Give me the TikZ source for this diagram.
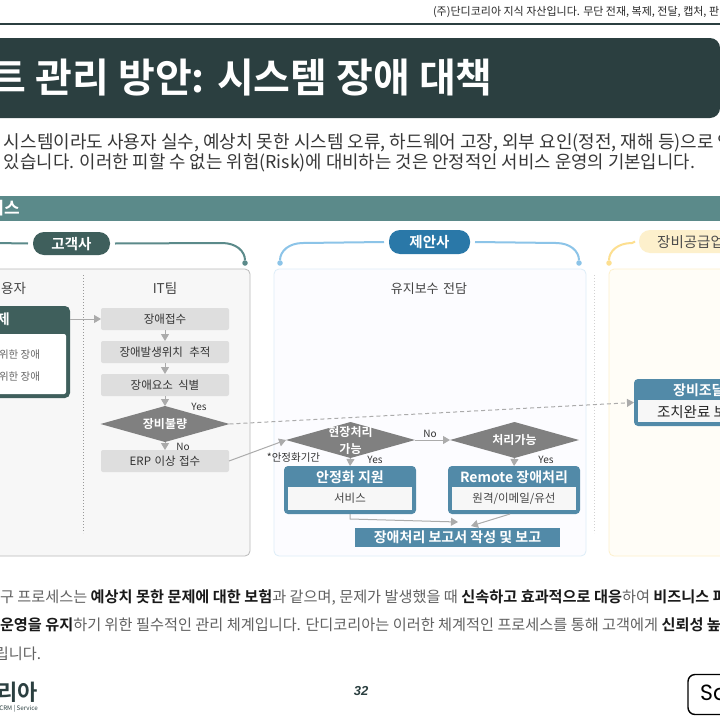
\documentclass[tikz,border=0pt]{standalone}
\usepackage{fontspec}
\setmainfont{Noto Sans CJK KR}[BoldFont={Noto Sans CJK KR Bold}]
\newfontfamily\latf{Liberation Sans}
\newfontfamily\popf{Poppins}
\usetikzlibrary{shapes.geometric,arrows.meta}
\definecolor{ink}{HTML}{2B3F40}
\definecolor{band}{HTML}{5B8A8A}
\definecolor{cust}{HTML}{3F5F5C}
\definecolor{prop}{HTML}{2A78A8}
\definecolor{propl}{HTML}{8CC4E8}
\definecolor{vend}{HTML}{FDF0CC}
\definecolor{vendl}{HTML}{FDDF90}
\definecolor{steel}{HTML}{528AA8}
\definecolor{txt}{HTML}{444444}
\newcommand{\fs}[1]{\fontsize{#1}{#1}\selectfont}
\newcommand{\hst}{\rule[-.12em]{0pt}{1em}}
\newcommand{\wsp}[1]{\hspace{#1em}}
\newcommand{\bt}[1]{{\bfseries\color{black!90}#1}}
\newcommand{\rbox}[7]{%
  \pgfmathsetmacro\cx{(#3+#5)/2}\pgfmathsetmacro\cy{(#4+#6)/2}%
  \pgfmathsetmacro\ww{#5-#3}\pgfmathsetmacro\hh{#6-#4}%
  \node[#2,minimum width=\ww pt,minimum height=\hh pt,inner sep=0pt,outer sep=0pt] (#1) at (\cx,\cy) {\hst #7};}
\tikzset{
  lab/.style={inner sep=0pt,outer sep=0pt,text=txt},
  panel/.style={rounded corners=5pt,line width=.8pt},
  itbox/.style={fill=black!13,rounded corners=2pt,text=black!80,font=\fs{11.5}},
  dia/.style={diamond,fill=black!50,inner sep=0pt,outer sep=0pt,minimum width=129pt,minimum height=36pt},
  diat/.style={inner sep=0pt,text=white,font=\bfseries\fs{12},align=center},
  ar/.style={draw=black!33,line width=1pt,-{Triangle[length=7pt,width=8pt,fill=black!33]}},
  hb/.style={fill=steel,rounded corners=4pt},
  ib/.style={fill=black!3,text=txt,font=\fs{11.5}},
  ht/.style={inner sep=0pt,text=white,font=\bfseries\fs{14}},
  small/.style={inner sep=0pt,text=black!80,font=\fs{10}},
  pill/.style={rounded corners=11pt,font=\bfseries\fs{14.5},text=white},
  dotn/.style={circle,minimum size=5.5pt,inner sep=0pt,outer sep=0pt}
}
\begin{document}
\begin{tikzpicture}[x=1pt,y=-1pt]
\path[use as bounding box,clip] (0,0) rectangle (720,720);
\fill[white] (0,0) rectangle (720,720);
% header
\node[lab,anchor=base west,text=black!85,font=\fs{11}] (hdr) at (433,16) {(주)단디코리아 지식 자산입니다. 무단 전재, 복제, 전달, 캡처, 판};
\coordinate (rl) at (0,24); \coordinate (rr) at (720,24);
\draw[ink,line width=2pt] (rl) -- (rr);
\rbox{titlebar}{fill=ink,rounded corners=10pt}{-30}{38}{720}{118}{}
\node[inner sep=0pt,anchor=base east,text=white,font=\bfseries\fs{40}] (title) at (493,92) {트 관리 방안: 시스템 장애 대책};
\node[lab,anchor=base west,text=black!78,font=\fs{18}] (b1) at (4,148.5) {시스템이라도 사용자 실수, 예상치 못한 시스템 오류, 하드웨어 고장, 외부 요인(정전, 재해 등)으로 인};
\node[lab,anchor=base west,text=black!78,font=\fs{17.8}] (b2) at (4,168.5) {있습니다. 이러한 피할 수 없는 위험(Risk)에 대비하는 것은 안정적인 서비스 운영의 기본입니다.};
\rbox{bandbar}{fill=band}{0}{196}{720}{221}{}
\node[inner sep=0pt,anchor=east,text=white,font=\bfseries\fs{17}] (bandt) at (20,208) {\hst 비스};
% panels
\rbox{pc}{panel,fill=black!3,draw=black!27}{-20}{269}{250}{556}{}
\rbox{pp}{panel,fill=blue!1,draw=propl!30}{274}{269}{586}{556}{}
\rbox{pv}{panel,fill=vend!15,draw=vend}{609}{269}{760}{556}{}
% column headers with curves
\rbox{pA}{pill,fill=cust}{33}{232}{110}{255}{고객사}
\node[dotn,fill=band] (dA) at (245,263) {};
\draw[band,line width=2pt] ([xshift=-5pt]pA.west) -- (-5,243);
\draw[band,line width=2pt] ([xshift=5pt]pA.east) -- (222,243) .. controls (236,243) and (245,251) .. (dA);
\rbox{pB}{pill,fill=prop}{389}{230}{470}{254}{제안사}
\node[dotn,fill=propl] (dB1) at (280,263) {};
\node[dotn,fill=propl] (dB2) at (579,263) {};
\draw[propl,line width=2pt] ([xshift=-5pt]pB.west) -- (303,243) .. controls (289,243) and (280,251) .. (dB1);
\draw[propl,line width=2pt] ([xshift=5pt]pB.east) -- (556,243) .. controls (570,243) and (579,251) .. (dB2);
\rbox{pC}{rounded corners=11pt,fill=vend}{639}{230}{770}{253}{}
\node[inner sep=0pt,anchor=west,text=black!70,font=\fs{14.5}] (pCt) at (657,242) {\hst 장비공급업};
\node[dotn,fill=vendl] (dC) at (609,263) {};
\draw[vendl,line width=2pt] ([xshift=-4pt]pC.west) -- (632,243) .. controls (618,243) and (609,251) .. (dC);
% dividers
\coordinate (v1a) at (83,275); \coordinate (v1b) at (83,533);
\draw[black!40,dotted,line width=1pt] (v1a) -- (v1b);
\coordinate (v2a) at (594,275); \coordinate (v2b) at (594,533);
\draw[black!18,dotted,line width=1pt] (v2a) -- (v2b);
% customer
\node[lab,anchor=east,font=\fs{13.5}] (h1) at (26,288.5) {\hst 용자};
\node[lab,font=\fs{13.5}] (h2) at (165,288.5) {\hst IT팀};
\rbox{ubox}{fill=cust,rounded corners=5pt}{-30}{306}{70}{398}{}
\rbox{ubi}{fill=white,rounded corners=2pt}{-30}{334}{66}{394}{}
\node[inner sep=0pt,anchor=east,text=white,font=\bfseries\fs{14}] (ut) at (10,319) {\hst 제};
\node[lab,anchor=east,text=black!60,font=\fs{10.5}] (u1) at (40,355) {\hst 위한 장애};
\node[lab,anchor=east,text=black!60,font=\fs{10.5}] (u2) at (40,377) {\hst 위한 장애};
\rbox{it1}{itbox}{101}{308}{229}{330}{장애접수}
\rbox{it2}{itbox}{101}{341}{229}{363}{장애발생위치\wsp{.55}추적}
\rbox{it3}{itbox}{101}{374}{229}{396}{장애요소\wsp{.45}식별}
\node[dia] (d1) at (165,424) {};
\node[diat] (d1t) at (d1) {\hst 장비불량};
\rbox{erp}{itbox}{101}{450}{229}{472}{ERP\wsp{.3}이상\wsp{.3}접수}
\draw[ar] (ubox.east|-it1.west) -- (it1.west);
\draw[ar] (it1) -- (it2);
\draw[ar] (it2) -- (it3);
\draw[ar] (it3) -- (d1);
\draw[ar] (d1) -- (erp);
\node[small] (y1) at (199,407) {Yes};
\node[small] (n1) at (183,447) {No};
% proposer
\node[lab,font=\fs{13}] (h3) at (429,288.5) {\hst 유지보수\wsp{.35}전담};
\node[dia] (d2) at (350.5,440) {};
\node[diat] (d2t) at (350.5,440.5) {현장처리\\[5pt]가능};
\node[dia] (d3) at (514.5,440) {};
\node[diat] (d3t) at (d3) {\hst 처리가능};
\node[small,font=\fs{10.5}] (st) at (293.5,458) {*안정화기간};
\rbox{s}{hb}{284}{466}{416}{514}{}
\rbox{si}{ib}{288}{487}{412}{510}{서비스}
\node[ht] (st2) at (350,477) {\hst 안정화 지원};
\rbox{r}{hb}{448}{466}{580}{514}{}
\rbox{ri}{ib}{452}{487}{576}{510}{원격/이메일/유선}
\node[ht] (rt2) at (514,477) {\hst Remote 장애처리};
\rbox{rep}{fill=steel,text=white,font=\bfseries\fs{14}}{355}{528}{560}{547}{장애처리 보고서 작성 및 보고}
\draw[ar] (erp.east) -- (d2.west);
\draw[ar] (d2.east) -- (d3.west);
\node[small] (n2) at (430,434) {No};
\draw[ar] (d2.south) -- (s.north);
\draw[ar] (d3.south) -- (r.north);
\node[small] (y2) at (375,460) {Yes};
\node[small] (y3) at (546,460) {Yes};
\coordinate (rep1) at (458,522);
\coordinate (rep2) at (471,526);
\draw[ar] (s.south) -- ++(0,5) -- (rep1);
\draw[ar] ([xshift=-4pt]r.south) -- (rep2);
% vendor
\rbox{v}{hb}{634}{379}{770}{426}{}
\rbox{vi}{fill=black!3}{638}{400}{770}{422}{}
\node[ht,anchor=west] (vt) at (673,390) {\hst 장비조달};
\node[lab,anchor=west,text=black!85,font=\fs{14.5}] (vi2) at (657,411.5) {\hst 조치완료 보};
\draw[ar,dashed,dash pattern=on 4pt off 3pt] (d1.east) -- (v.west);
% bottom text
\node[lab,anchor=base west,text=black!62,font=\fs{15.2}] (p1) at (0,602) {구 프로세스는 \bt{예상치 못한 문제에 대한 보험}과 같으며, 문제가 발생했을 때 \bt{신속하고 효과적으로 대응}하여 \bt{비즈니스 파}};
\node[lab,anchor=base west,text=black!62,font=\fs{15.2}] (p2) at (0,630) {\bt{운영을 유지}하기 위한 필수적인 관리 체계입니다. 단디코리아는 이러한 체계적인 프로세스를 통해 고객에게 \bt{신뢰성 높}};
\node[lab,anchor=base east,text=black!62,font=\fs{15.2}] (p3) at (41,659) {립니다.};
% footer
\node[inner sep=0pt,anchor=east,text=ink,font=\bfseries\fs{22}] (lg) at (38,692) {\hst 리아};
\node[inner sep=0pt,anchor=east,text=ink,font=\fs{6.2}] (lg2) at (38,709) {CRM | Service};
\node[inner sep=0pt,text=ink,font=\latf\bfseries\itshape\fs{13}] (pg) at (361,691) {32};
\rbox{sa}{draw=black,line width=1.4pt,rounded corners=7pt}{688}{674.5}{770}{714.5}{}
\node[inner sep=0pt,anchor=west,text=black,font=\popf\fs{22}] (sat) at (700,693) {Sa};
\end{tikzpicture}
\end{document}
